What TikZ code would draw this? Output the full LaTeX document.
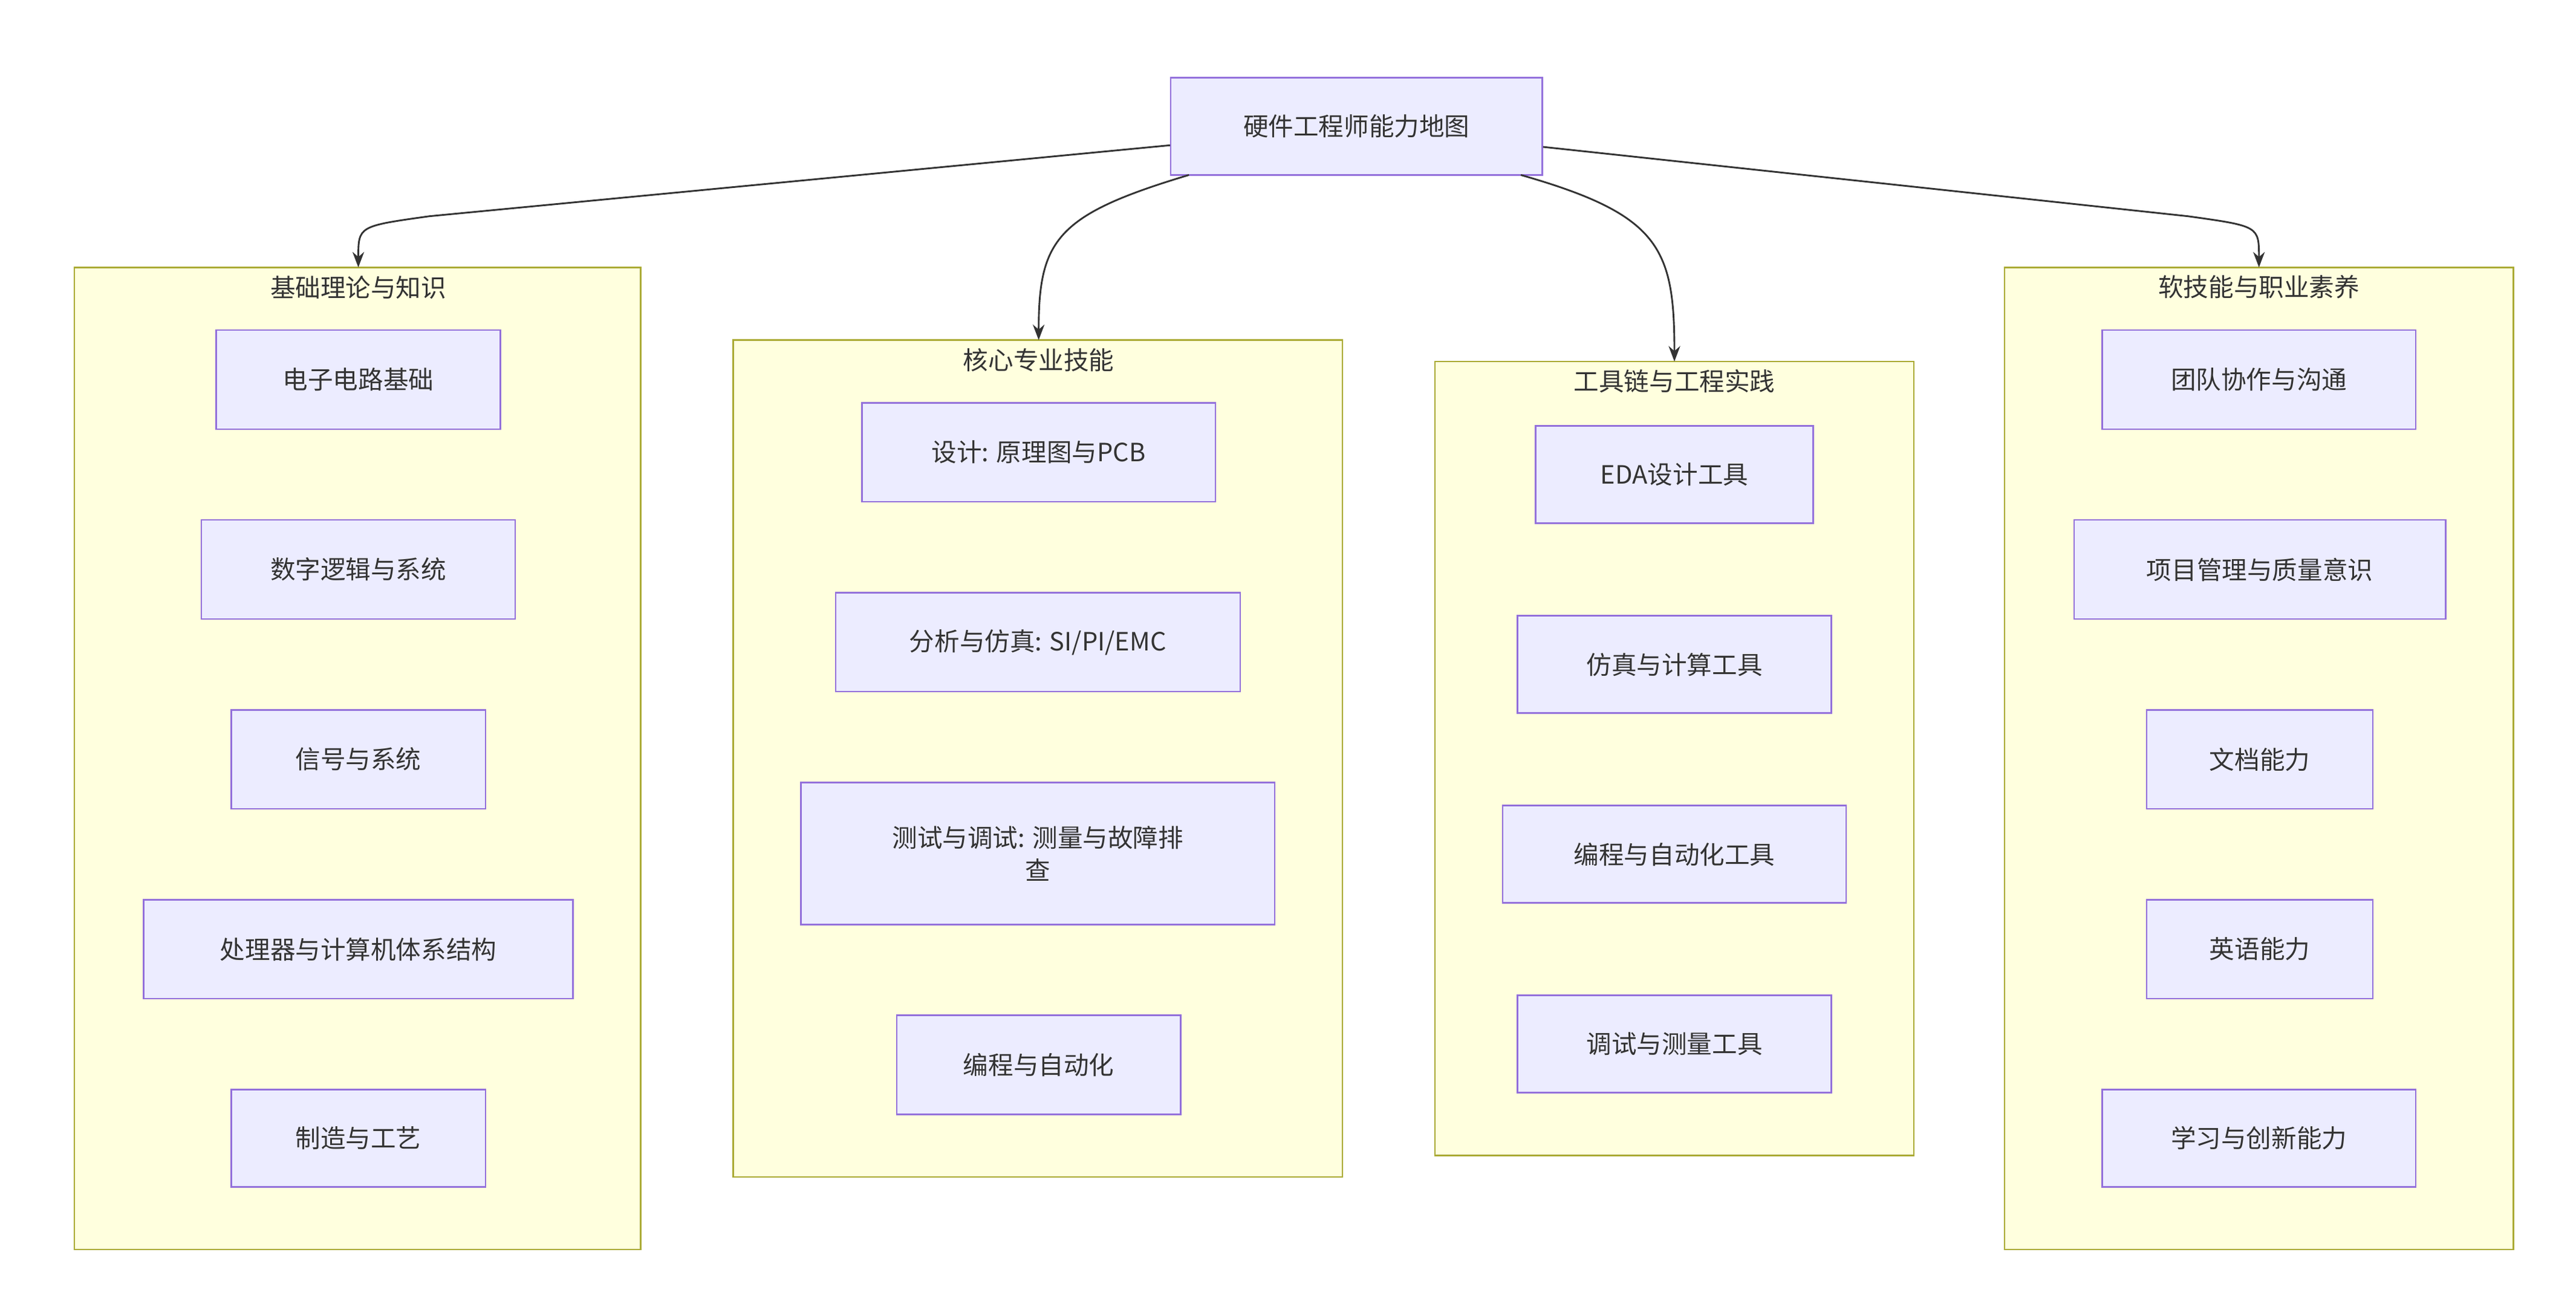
\documentclass[tikz,border=0pt]{standalone}
\usepackage{fontspec}
\setmainfont{Noto Sans CJK SC}
\usetikzlibrary{arrows.meta}
\definecolor{nfill}{HTML}{ECECFF}
\definecolor{nline}{HTML}{9370DB}
\definecolor{cfill}{HTML}{FFFFDE}
\definecolor{cline}{HTML}{AAAA33}
\definecolor{txt}{HTML}{333333}
\begin{document}
\begin{tikzpicture}[x=0.03cm,y=-0.03cm,
  nd/.style={draw=nline,fill=nfill,line width=0.8pt,text=txt,font=\fontsize{13pt}{17pt}\selectfont,inner sep=0pt,align=center},
  cl/.style={draw=cline,fill=cfill,line width=0.8pt},
  ttl/.style={text=txt,font=\fontsize{13pt}{17pt}\selectfont,inner sep=0pt},
  ed/.style={draw=txt,line width=0.9pt,-{Stealth[length=8pt,width=6pt]}}]
\useasboundingbox (0,0) rectangle (1560,797);
\newcommand{\bx}[5]{\node[nd,minimum width={(#4-#2)*0.03cm},minimum height={(#5-#3)*0.03cm}] (#1) at ({(#2+#4)/2},{(#3+#5)/2})}
% clusters
\draw[cl] (45,162) rectangle (388,757); \node[ttl] (t1) at (217,174) {基础理论与知识};
\draw[cl] (444,206) rectangle (813,713); \node[ttl] (t2) at (629,218) {核心专业技能};
\draw[cl] (869,219) rectangle (1159,700); \node[ttl] (t3) at (1014,231) {工具链与工程实践};
\draw[cl] (1214,162) rectangle (1522,757); \node[ttl] (t4) at (1368,174) {软技能与职业素养};
\coordinate (c1) at (217,162); \coordinate (c2) at (629,206);
\coordinate (c3) at (1014,219); \coordinate (c4) at (1368,162);
% top
\bx{top}{709}{47}{934}{106}{硬件工程师能力地图};
\node[nd,minimum width={225*0.03cm},minimum height={59*0.03cm}] (top) at (821.5,76.5) {硬件工程师能力地图};
% cluster 1
\node[nd,minimum width={172*0.03cm},minimum height={60*0.03cm}] (a1) at (217,230) {电子电路基础};
\node[nd,minimum width={190*0.03cm},minimum height={60*0.03cm}] (a2) at (217,345) {数字逻辑与系统};
\node[nd,minimum width={154*0.03cm},minimum height={60*0.03cm}] (a3) at (217,460) {信号与系统};
\node[nd,minimum width={260*0.03cm},minimum height={60*0.03cm}] (a4) at (217,575) {处理器与计算机体系结构};
\node[nd,minimum width={154*0.03cm},minimum height={59*0.03cm}] (a5) at (217,689.5) {制造与工艺};
% cluster 2
\node[nd,minimum width={214*0.03cm},minimum height={60*0.03cm}] (b1) at (629,274) {设计: 原理图与PCB};
\node[nd,minimum width={245*0.03cm},minimum height={60*0.03cm}] (b2) at (628.5,389) {分析与仿真: SI/PI/EMC};
\node[nd,minimum width={287*0.03cm},minimum height={86*0.03cm}] (b3) at (628.5,517) {测试与调试: 测量与故障排\\查};
\node[nd,minimum width={172*0.03cm},minimum height={60*0.03cm}] (b4) at (629,645) {编程与自动化};
% cluster 3
\node[nd,minimum width={168*0.03cm},minimum height={59*0.03cm}] (d1) at (1014,287.5) {EDA设计工具};
\node[nd,minimum width={190*0.03cm},minimum height={59*0.03cm}] (d2) at (1014,402.5) {仿真与计算工具};
\node[nd,minimum width={208*0.03cm},minimum height={59*0.03cm}] (d3) at (1014,517.5) {编程与自动化工具};
\node[nd,minimum width={190*0.03cm},minimum height={59*0.03cm}] (d4) at (1014,632.5) {调试与测量工具};
% cluster 4
\node[nd,minimum width={190*0.03cm},minimum height={60*0.03cm}] (e1) at (1368,230) {团队协作与沟通};
\node[nd,minimum width={225*0.03cm},minimum height={60*0.03cm}] (e2) at (1368.5,345) {项目管理与质量意识};
\node[nd,minimum width={137*0.03cm},minimum height={60*0.03cm}] (e3) at (1368.5,460) {文档能力};
\node[nd,minimum width={137*0.03cm},minimum height={60*0.03cm}] (e4) at (1368.5,575) {英语能力};
\node[nd,minimum width={190*0.03cm},minimum height={59*0.03cm}] (e5) at (1368,689.5) {学习与创新能力};
% edges
\draw[ed] (top.west |- 0,88) -- (260,131) .. controls (217,137) .. (c1);
\draw[ed] (720,106) .. controls (640,130) and (629,145) .. (c2);
\draw[ed] (921,106) .. controls (1005,130) and (1014,150) .. (c3);
\draw[ed] (top.east |- 0,89) -- (1325,131) .. controls (1368,137) .. (c4);
\end{tikzpicture}
\end{document}
